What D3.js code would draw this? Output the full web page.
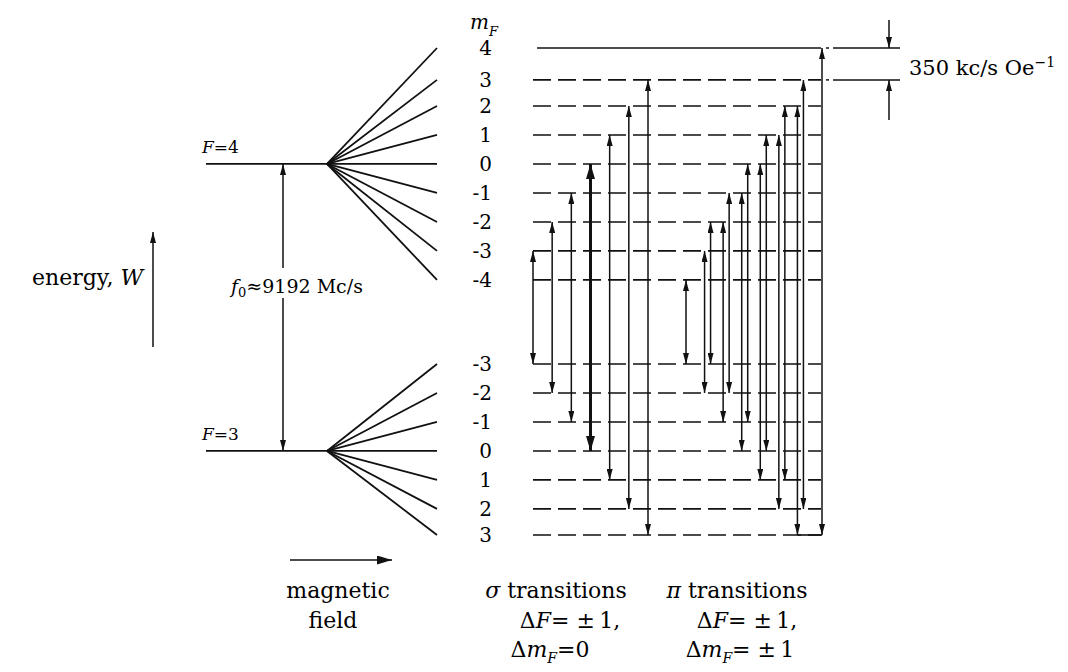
<!DOCTYPE html>
<html>
<head>
<meta charset="utf-8">
<script src="https://cdn.jsdelivr.net/npm/d3@7"></script>
<style>
  html, body { margin: 0; padding: 0; background: #fff; }
  svg { display: block; }
  text { font-family: "DejaVu Serif", "Liberation Serif", serif; fill: #000; }
</style>
</head>
<body>
<svg id="chart" width="1068" height="672"></svg>
<script>
// hyperfine levels of Cs ground state, energies in units of one Zeeman step
const zeroFieldF = [4, 3];
const zeroFieldEnergy = [12.8, 2.9];

const upperMF = [4, 3, 2, 1, 0, -1, -2, -3, -4];
const upperEnergy = [16.8, 15.7, 14.8, 13.8, 12.8, 11.8, 10.8, 9.8, 8.8];
const lowerMF = [-3, -2, -1, 0, 1, 2, 3];
const lowerEnergy = [5.9, 4.9, 3.9, 2.9, 1.9, 0.9, 0.0];

// transitions: sigma (dmF = 0) and pi (dmF = +-1), as [upper mF, lower mF]
const sigmaMF = [-3, -2, -1, 0, 1, 2, 3];
const piPairs = [
  [-4, -3], [-3, -2], [-2, -3], [-2, -1], [-1, -2], [-1, 0], [0, -1],
  [0, 1], [1, 0], [1, 2], [2, 1], [2, 3], [3, 2], [4, 3]
];

const f0Label = "9192 Mc/s";
const splitLabel = "350 kc/s Oe";
const bottomLabels = [
  ["magnetic", "field"],
  ["\u03C3 transitions", "\u0394F= \u00B1\u20091,", "\u0394mF=0"],
  ["\u03C0 transitions", "\u0394F= \u00B1\u20091,", "\u0394mF= \u00B1\u20091"]
];

const svg = d3.select("#chart");
const ink = "#111";

const yScale = d3.scaleLinear().domain([0, 16.8]).range([535, 48]);
const fieldX = d3.scaleLinear().domain([-1.1, 0, 1]).range([206, 327, 437]);
const sigmaX = d3.scalePoint().domain(sigmaMF).range([533, 648]);
const piGroupX = d3.scalePoint().domain(d3.range(8)).range([689, 819]);
const levelX = [533, 821];

const upperE = (m) => upperEnergy[upperMF.indexOf(m)];
const lowerE = (m) => lowerEnergy[lowerMF.indexOf(m)];

function piX(p) {
  const g = Math.min(p[0], p[1]) + 4;
  return piGroupX(g) + (p[0] < p[1] ? -3 : 3);
}

// arrowheads
const defs = svg.append("defs");
function marker(id, len, wid) {
  defs.append("marker")
    .attr("id", id)
    .attr("viewBox", `0 0 ${len} ${wid}`)
    .attr("refX", len)
    .attr("refY", wid / 2)
    .attr("markerWidth", len)
    .attr("markerHeight", wid)
    .attr("markerUnits", "userSpaceOnUse")
    .attr("orient", "auto-start-reverse")
    .append("path")
    .attr("d", `M0,0 L${len},${wid / 2} L0,${wid} Z`)
    .attr("fill", ink);
}
marker("ah", 11, 6);
marker("ahBig", 15, 9);

function arrow(g, x1, y1, x2, y2, opts = {}) {
  const l = g.append("line")
    .attr("x1", x1).attr("y1", y1).attr("x2", x2).attr("y2", y2)
    .attr("stroke", ink)
    .attr("stroke-width", opts.w || 1.5)
    .attr("marker-end", `url(#${opts.m || "ah"})`);
  if (opts.both) l.attr("marker-start", `url(#${opts.m || "ah"})`);
  return l;
}

// ---- Zeeman fans
const fan = svg.append("g").attr("stroke", ink).attr("stroke-width", 1.8);
zeroFieldEnergy.forEach((e) => {
  fan.append("line")
    .attr("x1", fieldX(-1.1)).attr("x2", fieldX(0))
    .attr("y1", yScale(e)).attr("y2", yScale(e));
});
upperEnergy.forEach((e) => {
  fan.append("line")
    .attr("x1", fieldX(0)).attr("y1", yScale(zeroFieldEnergy[0]))
    .attr("x2", fieldX(1)).attr("y2", yScale(e));
});
lowerEnergy.forEach((e) => {
  fan.append("line")
    .attr("x1", fieldX(0)).attr("y1", yScale(zeroFieldEnergy[1]))
    .attr("x2", fieldX(1)).attr("y2", yScale(e));
});

svg.selectAll("text.flab")
  .data(zeroFieldF)
  .join("text")
  .attr("class", "flab")
  .attr("x", 202)
  .attr("y", (d, i) => yScale(zeroFieldEnergy[i]) - 11)
  .attr("font-size", 17)
  .call((t) => {
    t.append("tspan").attr("font-style", "italic").text("F");
    t.append("tspan").text((d) => "=" + d);
  });

// f0 arrow with gap for label
const f0g = svg.append("g");
const fx = 283;
arrow(f0g, fx, 268, fx, yScale(zeroFieldEnergy[0]));
arrow(f0g, fx, 298, fx, yScale(zeroFieldEnergy[1]));
const f0t = svg.append("text").attr("x", 231).attr("y", 293).attr("font-size", 19);
f0t.append("tspan").attr("font-style", "italic").text("f");
f0t.append("tspan").attr("font-size", 13).attr("dy", 4).text("0");
f0t.append("tspan").attr("dy", -4).text("\u2248" + f0Label);

// ---- mF labels
svg.append("text").attr("x", 470).attr("y", 29).attr("font-size", 20)
  .call((t) => {
    t.append("tspan").attr("font-style", "italic").text("m");
    t.append("tspan").attr("font-style", "italic").attr("font-size", 13).attr("dy", 7).text("F");
  });

const mLab = svg.append("g").attr("font-size", 20).attr("text-anchor", "end");
mLab.selectAll("text.u").data(upperMF).join("text")
  .attr("x", 492).attr("y", (d, i) => yScale(upperEnergy[i]) + 7)
  .text((d) => (d < 0 ? "-" + -d : d));
mLab.selectAll("text.l").data(lowerMF).join("text")
  .attr("class", "l")
  .attr("x", 492).attr("y", (d, i) => yScale(lowerEnergy[i]) + 7)
  .text((d) => (d < 0 ? "-" + -d : d));

// ---- level lines at high field
const lv = svg.append("g").attr("stroke", ink).attr("stroke-width", 1.6);
upperEnergy.forEach((e, i) => {
  lv.append("line")
    .attr("x1", levelX[0] + (i === 0 ? 4 : 0)).attr("x2", levelX[1])
    .attr("y1", yScale(e)).attr("y2", yScale(e))
    .attr("stroke-dasharray", i === 0 ? null : "18,7");
});
lowerEnergy.forEach((e) => {
  lv.append("line")
    .attr("x1", levelX[0]).attr("x2", levelX[1])
    .attr("y1", yScale(e)).attr("y2", yScale(e))
    .attr("stroke-dasharray", "18,7");
});
// closing foot under the last two pi arrows
lv.append("line")
  .attr("x1", piX(piPairs[11])).attr("x2", piX(piPairs[13]))
  .attr("y1", yScale(lowerEnergy[6])).attr("y2", yScale(lowerEnergy[6]));

// ---- transitions
const tr = svg.append("g");
sigmaMF.forEach((m) => {
  const big = m === 0;
  arrow(tr, sigmaX(m), yScale(upperE(m)), sigmaX(m), yScale(lowerE(m)),
    { both: true, w: big ? 3 : 1.5, m: big ? "ahBig" : "ah" });
});
piPairs.forEach((p) => {
  arrow(tr, piX(p), yScale(upperE(p[0])), piX(p), yScale(lowerE(p[1])), { both: true });
});

// ---- 350 kc/s bracket
const br = svg.append("g").attr("stroke", ink).attr("stroke-width", 1.5);
[upperEnergy[0], upperEnergy[1]].forEach((e) => {
  br.append("line").attr("x1", 826).attr("x2", 829).attr("y1", yScale(e)).attr("y2", yScale(e));
  br.append("line").attr("x1", 833).attr("x2", 900).attr("y1", yScale(e)).attr("y2", yScale(e));
});
arrow(svg, 889, 20, 889, yScale(upperEnergy[0]));
arrow(svg, 889, 120, 889, yScale(upperEnergy[1]));
const st = svg.append("text").attr("x", 909).attr("y", 75).attr("font-size", 21);
st.append("tspan").text(splitLabel);
st.append("tspan").attr("font-size", 14).attr("dy", -8).text("\u22121");

// ---- energy axis
const en = svg.append("text").attr("x", 143).attr("y", 285).attr("font-size", 22).attr("text-anchor", "end");
en.append("tspan").text("energy,  ");
en.append("tspan").attr("font-style", "italic").text("W");
arrow(svg, 153, 347, 153, 232);

// ---- field arrow & bottom labels
arrow(svg, 290, 560, 392, 560, { m: "ahBig" });

const colX = [[338, 333], [556, 570, 550], [737, 747, 740]];
const rowY = [598, 628, 657];
bottomLabels.forEach((col, ci) => {
  col.forEach((s, ri) => {
    const t = svg.append("text")
      .attr("x", colX[ci][ri]).attr("y", rowY[ri])
      .attr("font-size", 22).attr("text-anchor", "middle");
    if (s.startsWith("\u03C3") || s.startsWith("\u03C0")) {
      t.append("tspan").attr("font-style", "italic").text(s[0]);
      t.append("tspan").text(s.slice(1));
    } else if (s.startsWith("\u0394mF")) {
      t.append("tspan").text("\u0394");
      t.append("tspan").attr("font-style", "italic").text("m");
      t.append("tspan").attr("font-style", "italic").attr("font-size", 14).attr("dy", 6).text("F");
      t.append("tspan").attr("dy", -6).text(s.slice(3));
    } else if (s.startsWith("\u0394F")) {
      t.append("tspan").text("\u0394");
      t.append("tspan").attr("font-style", "italic").text("F");
      t.append("tspan").text(s.slice(2));
    } else {
      t.text(s);
    }
  });
});
</script>
</body>
</html>
